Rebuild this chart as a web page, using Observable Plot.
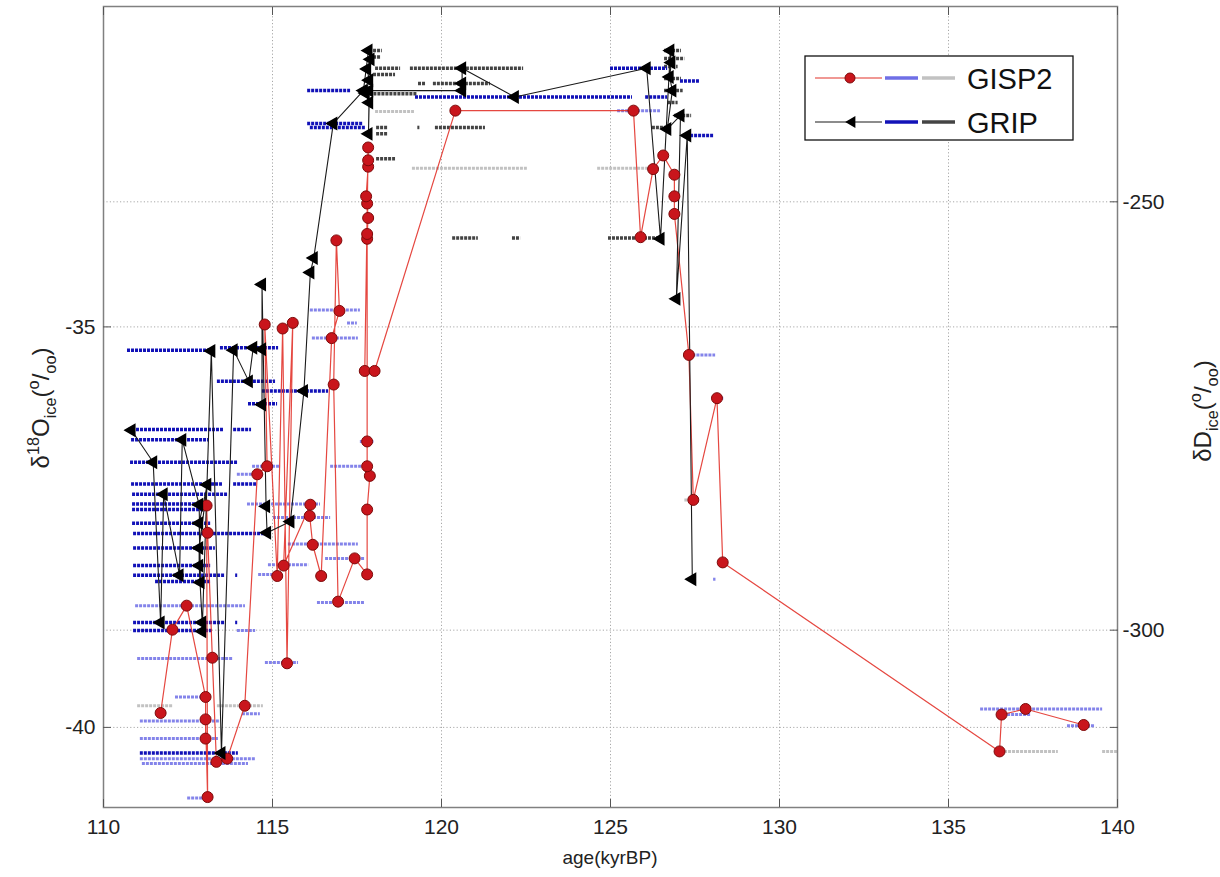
<!DOCTYPE html>
<html><head><meta charset="utf-8">
<script src="https://cdn.jsdelivr.net/npm/d3@7"></script>
<script src="https://cdn.jsdelivr.net/npm/@observablehq/plot@0.6"></script>
<style>
body{margin:0;background:#fff;}
#chart{width:1220px;height:877px;}
</style>
</head><body><div id="chart"></div>
<script>
// ---------- data (age in kyr BP, δ18O in ‰) ----------
const xTicks = [110,115,120,125,130,135,140];
const yTicksLeft = [-40,-35];
const yTicksRight = [-300,-250];          // δD ticks
const dDDomain = [-320.7,-227.2];          // δD range matching the δ18O range below
const d18ODomain = [-41,-31];

const gispAge = [111.69,112.04,112.46,113.02,113.02,113.02,113.08,113.05,113.08,113.22,113.34,113.66,114.18,114.55,114.84,114.77,115.14,115.30,115.43,115.60,115.33,116.12,116.10,116.19,116.44,116.75,116.98,116.89,116.81,116.94,117.43,117.80,117.80,117.88,117.80,117.80,117.80,117.80,117.83,117.80,117.77,117.83,117.83,117.83,117.73,118.02,120.41,125.68,125.89,126.26,126.56,126.89,126.89,126.89,127.32,127.45,128.15,128.32,136.51,136.57,137.28,139.00];
const gispD18O = [-39.82,-38.78,-38.48,-39.62,-40.14,-39.90,-40.87,-37.23,-37.57,-39.13,-40.43,-40.39,-39.73,-36.84,-36.74,-34.97,-38.11,-35.02,-39.20,-34.95,-37.98,-37.22,-37.36,-37.72,-38.11,-35.14,-34.80,-33.92,-35.72,-38.43,-37.89,-38.09,-37.28,-36.86,-36.74,-36.43,-33.90,-33.84,-33.64,-33.46,-33.37,-33.00,-32.92,-32.76,-35.55,-35.55,-32.30,-32.30,-33.88,-33.03,-32.86,-33.10,-33.37,-33.59,-35.35,-37.16,-35.89,-37.94,-40.30,-39.84,-39.77,-39.97];

const gripAge = [110.83,111.47,111.69,111.78,112.25,112.33,112.83,112.87,112.83,113.07,112.83,112.83,112.92,112.92,113.19,113.49,113.85,114.30,114.43,114.69,114.69,114.69,114.81,114.84,115.53,115.93,116.12,116.22,116.80,117.69,117.84,117.90,117.80,117.86,117.75,117.86,117.84,117.86,120.61,120.61,120.61,122.17,126.07,126.48,126.77,126.80,126.75,126.83,126.68,127.07,126.95,127.27,127.42];
const gripD18O = [-36.29,-36.69,-38.69,-37.09,-38.10,-36.41,-37.22,-38.19,-37.45,-36.97,-37.76,-37.98,-38.69,-38.80,-35.30,-40.32,-35.29,-35.68,-35.26,-35.28,-35.97,-34.47,-37.24,-37.57,-37.43,-35.80,-34.32,-34.14,-32.46,-32.05,-31.55,-31.66,-31.78,-31.92,-32.08,-32.20,-32.59,-32.05,-32.05,-31.96,-31.77,-32.13,-31.77,-33.90,-31.55,-31.70,-31.88,-32.05,-32.53,-32.36,-34.65,-32.61,-38.15];

// horizontal range bars: [δ18O, age from, age to]
const gispBlueBars = [
 [-34.79,116.12,117.60],[-34.95,117.22,117.51],[-35.14,116.18,117.54],[-36.74,114.41,115.24],
 [-36.84,113.96,114.64],[-36.74,116.72,117.69],[-36.43,117.60,118.00],[-37.21,114.26,116.42],
 [-37.38,115.03,116.72],[-37.71,115.47,117.54],[-37.89,116.57,117.75],[-37.97,114.88,116.07],
 [-38.09,114.59,115.24],[-38.44,116.33,117.75],[-38.48,110.95,114.20],[-38.79,113.96,114.50],
 [-39.14,111.01,113.85],[-39.19,114.79,115.77],[-39.62,112.13,112.96],[-39.83,114.11,114.64],
 [-39.92,111.09,113.46],[-40.14,111.09,113.40],[-40.39,111.09,114.50],[-40.45,111.15,114.29],
 [-40.88,112.49,113.08],[-32.30,125.21,126.48],[-35.35,127.32,128.11],[-35.89,128.15,128.35],
 [-38.15,128.05,128.12],[-39.77,135.95,139.56],[-39.84,136.63,137.43],[-39.98,138.52,139.35]
];
const gispGreyBars = [
 [-39.73,111.01,112.07],[-39.73,113.37,114.73],[-32.31,118.05,119.20],[-33.02,119.14,122.54],
 [-33.02,124.62,126.12],[-40.30,136.54,138.25],[-40.30,139.56,140.00],[-37.16,127.20,127.40]
];
const gripBlueBars = [
 [-35.29,110.71,113.31],[-35.26,113.46,115.18],[-35.68,113.37,115.09],[-35.80,114.70,116.66],
 [-35.96,114.29,115.15],[-36.28,110.74,113.55],[-36.28,113.85,114.38],[-36.41,110.83,113.11],
 [-36.69,110.80,113.99],[-36.96,110.83,113.52],[-36.96,113.85,114.56],[-37.09,110.86,113.67],
 [-37.21,110.86,113.02],[-37.28,110.86,113.02],[-37.45,110.86,113.17],[-37.58,110.89,114.94],
 [-37.76,110.89,113.31],[-37.98,110.89,113.17],[-38.10,110.89,113.61],[-38.18,111.54,113.17],
 [-38.69,110.89,113.61],[-38.79,110.89,113.22],[-40.32,111.09,113.99],[-38.10,113.91,113.97],
 [-38.69,113.91,113.97],[-32.05,116.04,117.31],[-32.13,119.23,125.65],[-32.13,126.04,126.69],
 [-32.46,116.04,117.69],[-32.51,116.12,117.75],[-31.77,125.00,126.69],[-31.93,127.07,127.66],
 [-32.61,127.37,128.05]
];
const gripGreyBars = [
 [-31.77,118.05,118.79],[-31.77,119.08,122.43],[-31.96,119.32,119.53],[-31.96,119.76,121.45],
 [-31.55,117.99,118.25],[-31.63,117.99,118.20],[-31.85,117.99,118.64],[-32.09,118.00,119.30],
 [-32.51,118.08,118.43],[-32.51,119.82,121.30],[-32.51,119.30,119.36],[-32.59,118.08,118.43],
 [-32.90,118.08,118.64],[-33.89,120.33,121.09],[-33.89,122.10,122.34],[-33.89,124.94,126.48],
 [-32.51,126.24,126.78],[-31.55,126.60,127.10],[-31.65,126.60,127.20],[-31.75,126.60,127.00],
 [-31.90,126.60,127.10],[-32.05,126.60,127.15],[-32.20,126.70,127.00],[-32.36,126.90,127.40]
];
const gridX = [115,120,125,130,135];
const seriesNames = ["GISP2","GRIP"];

// ---------- build tables ----------
const gisp = gispAge.map((a,i)=>({age:a, d:gispD18O[i]}));
const grip = gripAge.map((a,i)=>({age:a, d:gripD18O[i]}));
const bars = b => b.map(([d,a1,a2])=>({d,a1,a2}));
const dDtoD18O = d3.scaleLinear().domain(dDDomain).range(d18ODomain);
const rightTickPos = yTicksRight.map(v=>dDtoD18O(v));
const gridY = [...yTicksLeft, ...rightTickPos];

const C = {
  red:"#e2332b", redFill:"#c9151c", redEdge:"#7d0a0a",
  lblue:"#6f6fe6", lgrey:"#c2c2c2", dblue:"#1212b8", dgrey:"#444"
};

const fmt = d => String(d);

const plot = Plot.plot({
  width:1220, height:877,
  marginLeft:103, marginRight:103, marginTop:6, marginBottom:70,
  x:{domain:[110,140]},
  y:{domain:d18ODomain},
  style:{fontFamily:"'Liberation Sans', Arial, sans-serif", fontSize:"21px", color:"#222", background:"#fff", overflow:"visible"},
  marks:[
    Plot.ruleX(gridX, {stroke:"#a8a8a8", strokeDasharray:"1.2,2.2", strokeWidth:1}),
    Plot.ruleY(gridY, {stroke:"#a8a8a8", strokeDasharray:"1.2,2.2", strokeWidth:1}),
    Plot.ruleY(bars(gispGreyBars), {y:"d", x1:"a1", x2:"a2", stroke:C.lgrey, strokeWidth:3, strokeDasharray:"3,1"}),
    Plot.ruleY(bars(gispBlueBars), {y:"d", x1:"a1", x2:"a2", stroke:C.lblue, strokeWidth:3, strokeDasharray:"3,1", strokeOpacity:0.85}),
    Plot.ruleY(bars(gripGreyBars), {y:"d", x1:"a1", x2:"a2", stroke:C.dgrey, strokeWidth:3.5, strokeDasharray:"3,1"}),
    Plot.ruleY(bars(gripBlueBars), {y:"d", x1:"a1", x2:"a2", stroke:C.dblue, strokeWidth:3.5, strokeDasharray:"3,1"}),
    Plot.line(gisp, {x:"age", y:"d", stroke:C.red, strokeWidth:1.2, strokeOpacity:0.9}),
    Plot.line(grip, {x:"age", y:"d", stroke:"#1a1a1a", strokeWidth:1.1}),
    Plot.dot(gisp, {x:"age", y:"d", r:5.5, fill:C.redFill, stroke:C.redEdge, strokeWidth:1}),
    Plot.dot(grip, {x:"age", y:"d", symbol:"triangle", r:4.2, fill:"#000", stroke:"#000", rotate:-90}),
    Plot.frame({stroke:"#808080", strokeWidth:1.5}),
    Plot.axisX(xTicks, {anchor:"bottom", tickSize:-8, tickPadding:20, tickFormat:fmt, label:null, stroke:"#555"}),
    Plot.axisX(xTicks, {anchor:"top", tickSize:-8, tickFormat:()=>"", label:null, stroke:"#555"}),
    Plot.axisY(yTicksLeft, {anchor:"left", tickSize:-8, tickPadding:16, tickFormat:fmt, label:null, stroke:"#555"}),
    Plot.axisY(yTicksLeft, {anchor:"right", tickSize:-8, tickFormat:()=>"", label:null, stroke:"#555"}),
    Plot.axisY(rightTickPos, {anchor:"right", tickSize:-8, tickPadding:13, tickFormat:d=>fmt(Math.round(dDtoD18O.invert(d))), label:null, stroke:"#555"})
  ]
});
document.getElementById("chart").appendChild(plot);

// ---------- axis titles with sub/superscripts ----------
const svg = d3.select(plot);
function richText(parts, attrs, size){
  const t = svg.append("text");
  Object.entries(attrs).forEach(([k,v])=>t.attr(k,v));
  t.style("font-size", size+"px").attr("fill","#222");
  let shift = 0;
  parts.forEach(([s,kind])=>{
    const target = kind==="sup" ? -0.42*size : kind==="sub" ? 0.3*size : 0;
    const ts = t.append("tspan").attr("dy", target-shift).text(s);
    if (kind) ts.style("font-size", (0.68*size)+"px");
    shift = target;
  });
  return t;
}
richText([["δ"],["18","sup"],["O"],["ice","sub"],["("],["o","sup"],["/"],["oo","sub"],[")"]],
  {transform:"translate(49,408) rotate(-90)", "text-anchor":"middle"}, 24);
richText([["δD"],["ice","sub"],["("],["o","sup"],["/"],["oo","sub"],[")"]],
  {transform:"translate(1211,411) rotate(-90)", "text-anchor":"middle"}, 24);
svg.append("text").attr("x",610).attr("y",864).attr("text-anchor","middle")
  .style("font-size","19px").attr("fill","#222").text("age(kyrBP)");

// ---------- legend ----------
const lg = svg.append("g").attr("text-anchor","start");
lg.append("rect").attr("x",805).attr("y",56).attr("width",268).attr("height",84)
  .attr("fill","#fff").attr("stroke","#111").attr("stroke-width",1.3);
const rows = [
  {name:seriesNames[0], y:78, line:C.red, c1:C.lblue, c2:C.lgrey, marker:"circle"},
  {name:seriesNames[1], y:122, line:"#1a1a1a", c1:C.dblue, c2:C.dgrey, marker:"tri"}
];
rows.forEach(r=>{
  lg.append("line").attr("x1",815).attr("x2",882).attr("y1",r.y).attr("y2",r.y).attr("stroke",r.line).attr("stroke-width",1.2);
  lg.append("line").attr("x1",885).attr("x2",918).attr("y1",r.y).attr("y2",r.y).attr("stroke",r.c1).attr("stroke-width",3.5);
  lg.append("line").attr("x1",922).attr("x2",955).attr("y1",r.y).attr("y2",r.y).attr("stroke",r.c2).attr("stroke-width",3.5);
  if (r.marker==="circle") lg.append("circle").attr("cx",850).attr("cy",r.y).attr("r",5).attr("fill",C.redFill).attr("stroke",C.redEdge);
  else lg.append("path").attr("transform",`translate(852,${r.y}) rotate(-90)`).attr("d", d3.symbol(d3.symbolTriangle, 60)()).attr("fill","#000");
  lg.append("text").attr("x",967).attr("y",r.y+11).attr("text-anchor","start").style("font-size","29px").attr("fill","#111").text(r.name);
});
</script></body></html>
